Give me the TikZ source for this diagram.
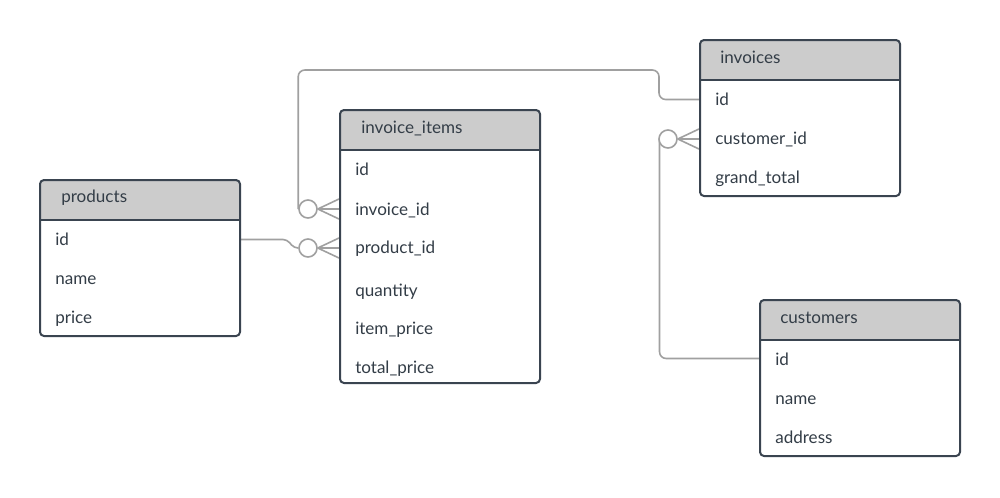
\documentclass[tikz,border=0pt]{standalone}
\usepackage{fontspec}
\setmainfont{Lato}
\usetikzlibrary{calc}
\definecolor{boxc}{HTML}{3A4450}
\definecolor{headc}{HTML}{CCCCCC}
\definecolor{txtc}{HTML}{333D47}
\definecolor{linec}{HTML}{A0A0A0}
\pgfdeclarelayer{back}
\pgfdeclarelayer{bg}
\pgfsetlayers{back,bg,main}
\begin{document}
\begin{tikzpicture}[x=0.75pt,y=-0.75pt,
  tbl/.style={draw=boxc, line width=1.5pt, rounded corners=3pt, minimum width=150pt, inner sep=0pt,
    path picture={\fill[headc] ([yshift=2pt]path picture bounding box.north west) rectangle ([yshift=-30pt]path picture bounding box.north east);
      \draw[boxc, line width=1.5pt] ([yshift=-30pt]path picture bounding box.north west) -- ([yshift=-30pt]path picture bounding box.north east);}},
  fld/.style={anchor=mid west, inner sep=0pt, text=txtc, font=\fontsize{12.8}{15}\selectfont, yshift=-1.8pt},
  conn/.style={draw=linec, line width=1.2pt},
  circ/.style={circle, draw=linec, line width=1.2pt, fill=white, minimum size=13.5pt, inner sep=0pt},
]
\useasboundingbox (0,0) rectangle (1000,497);
\begin{pgfonlayer}{back}
\fill[white] (0,0) rectangle (1000,497);
\end{pgfonlayer}

% tables
\node[tbl, minimum height=117pt] (prod) at (140,258) {};
\node[tbl, minimum height=204.75pt] (ii) at (440,246.5) {};
\node[tbl, minimum height=117pt] (inv) at (800,118) {};
\node[tbl, minimum height=117pt] (cust) at (860,378) {};

% products
\node[fld] (prodh) at (61,197) {products};
\node[fld] (pid) at (55,240) {id};
\node[fld] (pname) at (55,279) {name};
\node[fld] (pprice) at (55,318) {price};

% invoice_items
\node[fld] (iih) at (361,128) {invoice\_items};
\node[fld] (iiid) at (355,170) {id};
\node[fld] (iiinv) at (355,210) {invoice\_id};
\node[fld] (iiprod) at (355,248) {product\_id};
\node[fld] (iiqty) at (355,291) {quantity};
\node[fld] (iiitem) at (355,329) {item\_price};
\node[fld] (iitot) at (355,368) {total\_price};

% invoices
\node[fld] (invh) at (720,58) {invoices};
\node[fld] (invid) at (715,100) {id};
\node[fld] (invcust) at (715,139) {customer\_id};
\node[fld] (invtot) at (715,178) {grand\_total};

% customers
\node[fld] (custh) at (780,318) {customers};
\node[fld] (custid) at (775,360) {id};
\node[fld] (custname) at (775,399) {name};
\node[fld] (custaddr) at (775,438) {address};

% crow's feet circles
\node[circ] (c1) at (308,209) {};
\node[circ] (c2) at (308,248) {};
\node[circ] (c3) at (668,139) {};
\coordinate (pidy) at (0,239.5);
\coordinate (invidy) at (0,99.5);
\coordinate (custidy) at (0,358.5);

\begin{pgfonlayer}{bg}
\draw[conn, rounded corners=5pt] (inv.west |- invidy) -| (659,70) -| (c1.west);
\draw[conn, rounded corners=3pt] (prod.east |- pidy) -- (287,239.5) -- (294,248) -- (c2.west);
\draw[conn, rounded corners=5pt] (cust.west |- custidy) -| ([xshift=1pt]c3.west);
\foreach \c/\t in {c1/ii, c2/ii, c3/inv}{
  \draw[conn] (\c.east) -- ([yshift=7.5pt]\t.west |- \c);
  \draw[conn] (\c.east) -- (\t.west |- \c);
  \draw[conn] (\c.east) -- ([yshift=-7.5pt]\t.west |- \c);
}
\end{pgfonlayer}
\end{tikzpicture}
\end{document}
